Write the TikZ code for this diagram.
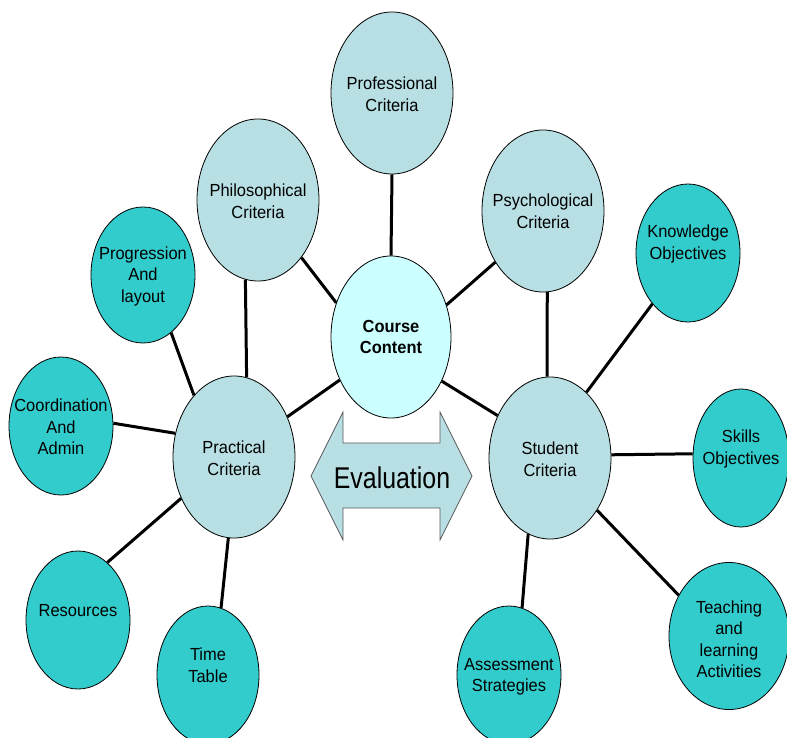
\documentclass[tikz,border=0pt]{standalone}
\usepackage{fontspec}
\setmainfont{Liberation Sans}[FakeStretch=0.94]
\newfontfamily\evalfont{Liberation Sans}[FakeStretch=0.83]
\usetikzlibrary{shapes.geometric}
\definecolor{lightc}{HTML}{B8DFE3}
\definecolor{tealc}{HTML}{33CCCC}
\definecolor{corec}{HTML}{CCFFFF}
\tikzset{
  txt/.style={align=center, font=\fontsize{17.5}{21.5}\selectfont},
  bub/.style={ellipse, draw=black, line width=0.8pt, inner sep=0pt},
  crit/.style={bub, fill=lightc, minimum width=122pt, minimum height=162pt},
  leaf/.style={bub, fill=tealc, minimum width=104pt, minimum height=138pt},
  link/.style={line width=3pt, black},
  evalarrow/.style={fill=lightc, draw=black!65, line width=0.7pt},
}
\begin{document}
\begin{tikzpicture}[x=1pt,y=-1pt]
\useasboundingbox (0,0) rectangle (787,738);
\clip (0,0) rectangle (787,738);
% central and criteria
\node[crit, label={[txt, yshift=-1pt]center:{Professional\\Criteria}}] (prof) at (392,93) {};
\node[crit, label={[txt, yshift=-1pt]center:{Philosophical\\Criteria}}] (phil) at (258,200) {};
\node[crit, label={[txt]center:{Psychological\\Criteria}}] (psych) at (543,211) {};
\node[bub, fill=corec, minimum width=120pt, minimum height=162pt,
  label={[txt, font=\bfseries\fontsize{17.5}{21.5}\selectfont]center:{Course\\Content}}] (course) at (391,337) {};
\node[crit, label={[txt, yshift=-1pt]center:{Practical\\Criteria}}] (prac) at (234,457) {};
\node[crit, label={[txt, yshift=-1pt]center:{Student\\Criteria}}] (stud) at (550,458) {};
% leaves
\node[leaf, minimum height=136pt, label={[txt, yshift=-1pt]center:{Progression\\And\\layout}}] (prog) at (143,275) {};
\node[leaf, label={[txt, yshift=-1pt]center:{Coordination\\And\\Admin}}] (coord) at (61,426) {};
\node[leaf, label={[txt, yshift=9pt]center:Resources}] (res) at (78,620) {};
\node[leaf, minimum width=102pt, label={[txt, yshift=10pt]center:{Time\\Table}}] (time) at (208,675) {};
\node[leaf, label={[txt, yshift=9pt]center:{Knowledge\\Objectives}}] (know) at (688,253) {};
\node[leaf, minimum width=96pt, label={[txt, yshift=9pt]center:{Skills\\Objectives}}] (skill) at (741,458) {};
\node[leaf, label={[txt, yshift=-2pt]center:{Assessment\\Strategies}}] (assess) at (509,675) {};
\node[leaf, minimum width=120pt, minimum height=147pt, label={[txt, yshift=-3pt]center:{Teaching\\and\\learning\\Activities}}] (teach) at (729,636) {};
% evaluation double arrow
\draw[evalarrow] (311,476) -- (343,412) -- (343,443) -- (440,443) -- (440,412) -- (472,476)
  -- (440,540) -- (440,508) -- (343,508) -- (343,540) -- cycle;
\node[font=\evalfont\fontsize{30}{36}\selectfont] (eval) at (392,478) {Evaluation};
% connectors
\draw[link] (prof.south) -- (course.north);
\draw[link] (phil.-53.1) -- (course.148.5);
\draw[link] (psych.227.4) -- (course.30.2);
\draw[link] (course.220) -- (prac.37);
\draw[link] (course.-41.3) -- (stud.141.6);
\draw[link] (phil.261.4) -- (prac.81.4);
\draw[link] (psych.-87.2) -- (stud.92.8);
\draw[link] (prog.-64.6) -- (prac.123.5);
\draw[link] (coord.3.2) -- (prac.158.8);
\draw[link] (prac.218.5) -- (res.63);
\draw[link] (prac.266) -- (time.79.2);
\draw[link] (know.235) -- (stud.61.2);
\draw[link] (stud.3.75) -- (skill.175.2);
\draw[link] (stud.254.4) -- (assess.79.3);
\draw[link] (stud.-48) -- (teach.141.7);
\end{tikzpicture}
\end{document}
